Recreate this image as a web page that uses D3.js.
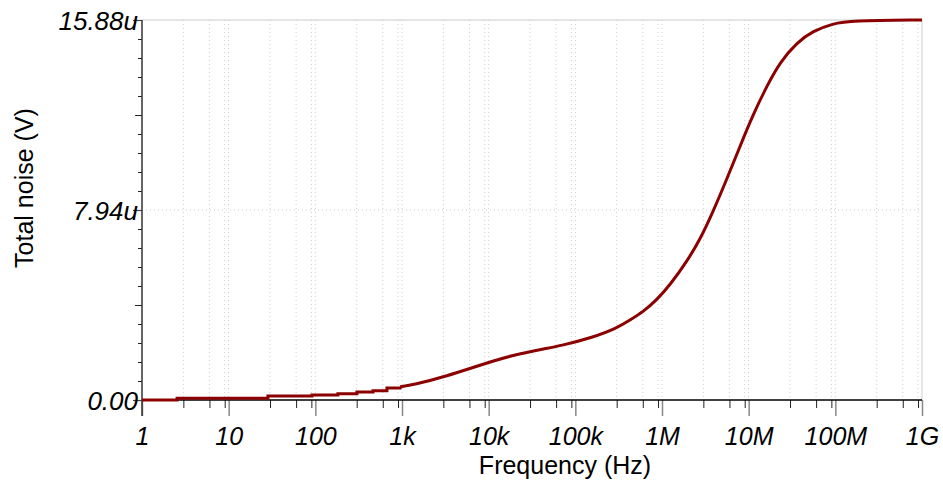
<!DOCTYPE html>
<html>
<head>
<meta charset="utf-8">
<script src="https://cdn.jsdelivr.net/npm/d3@7"></script>
<style>
    body { margin: 0; background: #fff; }
    svg { display: block; font-family: "Liberation Sans", Arial, sans-serif; }
    .axis path { display: none; }
</style>
</head>
<body>
<div id="chart"></div>
<script>
// frequency (Hz) and total noise (µV)
let freqs = [1, 2.54, 28.4, 91.6, 182, 302, 463, 670, 950,
    1340, 3300, 7940, 19100, 47000, 66500, 161000, 300000, 427000, 608000, 869000,
    1.24e6, 1.93e6, 2.74e6, 3.87e6, 5.61e6, 7.92e6, 1.12e7, 1.62e7, 2.3e7,
    3.6e7, 5.5e7, 9.4e7, 1.48e8, 1e9];
let noise = [0, 0.07, 0.17, 0.21, 0.26, 0.33, 0.39, 0.5, 0.55,
    0.63, 1.0, 1.46, 1.88, 2.16, 2.26, 2.62, 3.0, 3.34, 3.69, 4.18,
    4.81, 5.78, 6.7, 7.86, 9.24, 10.59, 11.91, 13.12, 14.12,
    14.94, 15.42, 15.73, 15.85, 15.88];
let stepCount = 9; // low-frequency part is drawn as steps

let decades = [1, 10, 100, 1e3, 1e4, 1e5, 1e6, 1e7, 1e8, 1e9];
let decadeLabels = ["1", "10", "100", "1k", "10k", "100k", "1M", "10M", "100M", "1G"];
let yMajor = [0, 7.94, 15.88];
let yMajorLabels = ["0.00", "7.94u", "15.88u"];
let yMax = 15.88;

let width = 943, height = 489;
let margin = {top: 20, right: 21, bottom: 89, left: 142};

let svg = d3.select("#chart").append("svg")
    .attr("width", width)
    .attr("height", height);

let x = d3.scaleLog()
    .domain([1, 1e9])
    .range([margin.left, width - margin.right]);

let y = d3.scaleLinear()
    .domain([0, yMax])
    .range([height - margin.bottom, margin.top]);

// minor ticks at 3, 6, 9 per decade
let minorX = [];
decades.slice(0, -1).forEach(d => {
    [3, 6, 9].forEach(m => minorX.push(d * m));
});
let minorY = d3.range(21).map(i => i * yMax / 20);

// grid
let grid = svg.append("g");
grid.selectAll(".vgrid")
    .data(minorX.concat(decades.slice(1, -1)))
    .enter().append("line")
    .attr("x1", d => x(d)).attr("x2", d => x(d))
    .attr("y1", y(yMax)).attr("y2", y(0))
    .attr("stroke", "#cfcfcf")
    .attr("stroke-dasharray", "1,3");

grid.append("line")
    .attr("x1", x(1)).attr("x2", x(1e9))
    .attr("y1", y(7.94)).attr("y2", y(7.94))
    .attr("stroke", "#cfcfcf")
    .attr("stroke-dasharray", "1,3");

// frame top and right
grid.append("line")
    .attr("x1", x(1)).attr("x2", x(1e9))
    .attr("y1", y(yMax)).attr("y2", y(yMax))
    .attr("stroke", "#cccccc");
grid.append("line")
    .attr("x1", x(1e9)).attr("x2", x(1e9))
    .attr("y1", y(yMax)).attr("y2", y(0))
    .attr("stroke", "#cccccc");

// x axis: minor ticks
svg.append("g")
    .attr("class", "axis")
    .attr("transform", `translate(0, ${y(0)})`)
    .call(d3.axisBottom(x).tickValues(minorX).tickFormat("").tickSize(8))
    .selectAll("line").attr("stroke", "#222");

// x axis: decade ticks and labels
let xAxis = svg.append("g")
    .attr("class", "axis")
    .attr("transform", `translate(0, ${y(0)})`)
    .call(d3.axisBottom(x)
        .tickValues(decades)
        .tickFormat((d, i) => decadeLabels[i])
        .tickSize(16)
        .tickPadding(11));
xAxis.selectAll("line").attr("stroke", "#888").attr("stroke-width", 1.5);
xAxis.selectAll("text")
    .attr("fill", "#000")
    .style("font-size", "25px")
    .style("font-style", "italic");

// y axis: minor ticks
svg.append("g")
    .attr("class", "axis")
    .attr("transform", `translate(${x(1)}, 0)`)
    .call(d3.axisLeft(y).tickValues(minorY).tickFormat("")
        .tickSize(4))
    .selectAll("line")
    .attr("x2", (d, i) => i % 10 === 5 ? -7 : -4)
    .attr("stroke", "#222");

// y axis: major ticks and labels
let yAxis = svg.append("g")
    .attr("class", "axis")
    .attr("transform", `translate(${x(1)}, 0)`)
    .call(d3.axisLeft(y)
        .tickValues(yMajor)
        .tickFormat((d, i) => yMajorLabels[i])
        .tickSize(9)
        .tickPadding(-5));
yAxis.selectAll("line").attr("stroke", "#444").attr("stroke-width", 1.2);
yAxis.selectAll("text")
    .attr("fill", "#000")
    .attr("dy", "0.38em")
    .style("font-size", "26px")
    .style("font-style", "italic");

// axis lines
svg.append("line")
    .attr("x1", x(1)).attr("x2", x(1e9))
    .attr("y1", y(0)).attr("y2", y(0))
    .attr("stroke", "#000").attr("stroke-width", 1.5);
svg.append("line")
    .attr("x1", x(1)).attr("x2", x(1))
    .attr("y1", y(yMax)).attr("y2", y(0) + 16)
    .attr("stroke", "#333").attr("stroke-width", 1.5);

// curve
let data = freqs.map((f, i) => ({f: f, v: noise[i]}));

let stepLine = d3.line()
    .x(d => x(d.f))
    .y(d => y(d.v))
    .curve(d3.curveStepAfter);

let smoothLine = d3.line()
    .x(d => x(d.f))
    .y(d => y(d.v))
    .curve(d3.curveBasis);

svg.append("path")
    .datum(data.slice(0, stepCount))
    .attr("fill", "none")
    .attr("stroke", "#8b0000")
    .attr("stroke-width", 3)
    .attr("d", stepLine);

svg.append("path")
    .datum(data.slice(stepCount - 1))
    .attr("fill", "none")
    .attr("stroke", "#8b0000")
    .attr("stroke-width", 3)
    .attr("d", smoothLine);

// axis titles
svg.append("text")
    .attr("x", 565)
    .attr("y", 474)
    .attr("text-anchor", "middle")
    .style("font-size", "25px")
    .text("Frequency (Hz)");

svg.append("text")
    .attr("transform", "translate(33, 188) rotate(-90)")
    .attr("text-anchor", "middle")
    .style("font-size", "25px")
    .text("Total noise (V)");
</script>
</body>
</html>
